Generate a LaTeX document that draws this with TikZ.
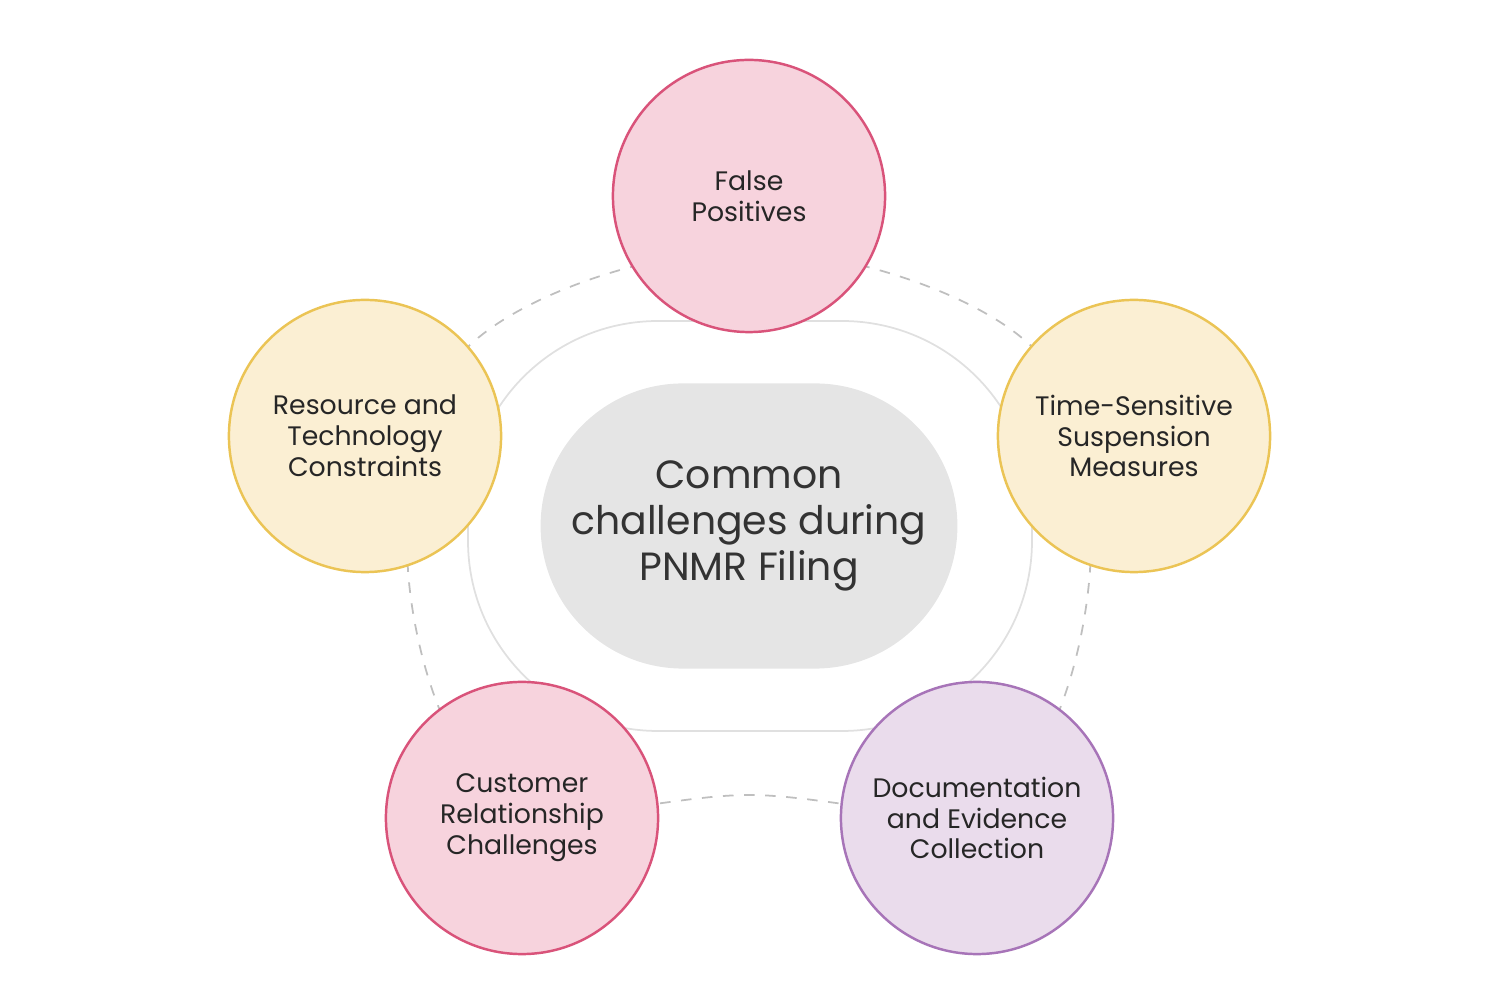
\documentclass[tikz,border=0pt]{standalone}
\usepackage{fontspec}
\setmainfont{Poppins}
\usetikzlibrary{shapes.misc}
\definecolor{pinkfill}{HTML}{F7D3DD}
\definecolor{pinkline}{HTML}{D9537A}
\definecolor{yellowfill}{HTML}{FBEFD3}
\definecolor{yellowline}{HTML}{EBC455}
\definecolor{purplefill}{HTML}{EADCEC}
\definecolor{purpleline}{HTML}{A774B8}
\tikzset{
  topic/.style={circle,minimum size=2.72cm,line width=0.7pt,inner sep=0pt,
                align=center,font=\fontsize{7.6}{8.8}\selectfont,text=black!85},
  pinktopic/.style={topic,draw=pinkline,fill=pinkfill},
  yellowtopic/.style={topic,draw=yellowline,fill=yellowfill},
  purpletopic/.style={topic,draw=purpleline,fill=purplefill},
  hub/.style={rounded rectangle,fill=black!10,minimum width=4.4cm,minimum height=2.85cm,
              align=center,font=\fontsize{11.2}{13}\selectfont,text=black!80}
}
\begin{document}
\begin{tikzpicture}[x=0.01cm,y=-0.01cm]
    \useasboundingbox (0,0) rectangle (1500,998);
    % rings behind the topics
    \draw[black!12,line width=0.5pt,rounded corners=1.9cm] (468,321) rectangle (1032,731);
    \draw[black!25,dashed,line width=0.5pt] plot[smooth cycle,tension=0.6] coordinates
        {(749,250) (1030,345) (1090,570) (1000,795) (749,795) (500,795) (408,570) (470,345)};
    % centre
    \node[hub] (hub) at (749,526) {Common\\challenges during\\PNMR Filing};
    % topics
    \node[pinktopic] (false) at (749,196) {False\\Positives};
    \node[yellowtopic] (time) at (1134,436) {Time-Sensitive\\Suspension\\Measures};
    \node[purpletopic] (docs) at (977,818) {Documentation\\and Evidence\\Collection};
    \node[pinktopic] (customer) at (522,818) {Customer\\Relationship\\Challenges};
    \node[yellowtopic] (resource) at (365,436) {Resource and\\Technology\\Constraints};
\end{tikzpicture}
\end{document}
